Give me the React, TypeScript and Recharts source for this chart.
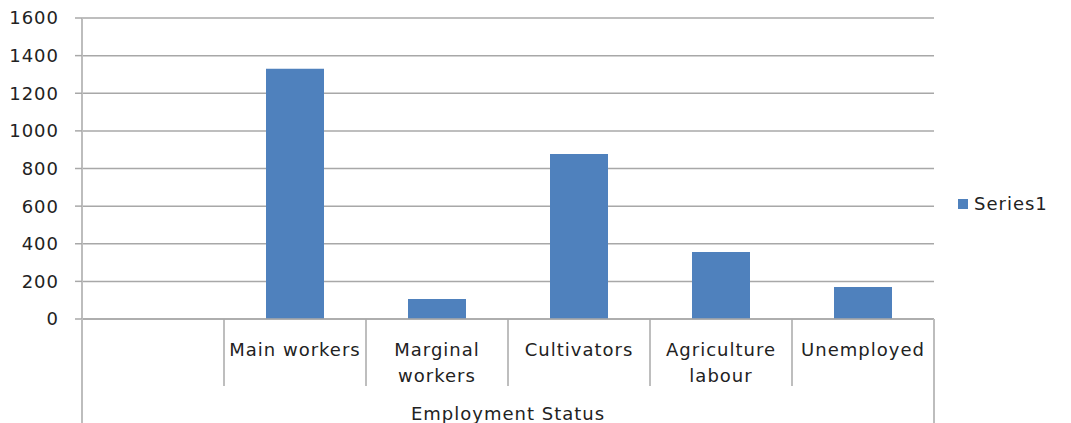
import { BarChart, Bar, XAxis, YAxis, CartesianGrid } from 'recharts';

const CATEGORIES = ['', 'Main workers', 'Marginal workers', 'Cultivators', 'Agriculture labour', 'Unemployed'];
const SERIES1 = [null, 1330, 106, 877, 356, 170];
const Y_TICKS = [0, 200, 400, 600, 800, 1000, 1200, 1400, 1600];
const AXIS_TITLE = 'Employment Status';
const SERIES_NAME = 'Series1';

const LABEL_LINES: Record<string, string[]> = {
  'Marginal workers': ['Marginal', 'workers'],
  'Agriculture labour': ['Agriculture', 'labour'],
};

const data = CATEGORIES.map((name, i) => ({ name, value: SERIES1[i] }));

const FONT = '"DejaVu Sans", sans-serif';
const GRID = '#a8a8a8';

const CategoryTick = (props: any) => {
  const { x, y, payload, index, width } = props;
  const band = (width || 852) / CATEGORIES.length;
  const half = band / 2;
  const lines = LABEL_LINES[payload.value] || [payload.value];
  const isLast = index === CATEGORIES.length - 1;
  return (
    <g>
      {index === 0 ? (
        <line x1={x - half} x2={x - half} y1={y - 8} y2={y + 104} stroke="#bdbdbd" strokeWidth={2} />
      ) : (
        <line x1={x - half} x2={x - half} y1={y - 8} y2={y + 59} stroke={GRID} strokeWidth={1.5} />
      )}
      {isLast && (
        <line x1={x + half} x2={x + half} y1={y - 8} y2={y + 104} stroke="#bdbdbd" strokeWidth={2} />
      )}
      {lines.map((l, i) => (
        <text
          key={i}
          x={x}
          y={y + 29 + i * 26}
          textAnchor="middle"
          fontFamily={FONT}
          fontSize={18}
          letterSpacing={1}
          fill="#222"
        >
          {l}
        </text>
      ))}
      {index === 0 && (
        <text
          x={x - half + (width || 852) / 2}
          y={y + 93}
          textAnchor="middle"
          fontFamily={FONT}
          fontSize={18}
          letterSpacing={1}
          fill="#222"
        >
          {AXIS_TITLE}
        </text>
      )}
    </g>
  );
};

export default function App() {
  return (
    <div style={{ position: 'absolute', left: 0, top: 0, width: 1071, height: 423, background: '#fff' }}>
      <BarChart
        width={1071}
        height={423}
        data={data}
        margin={{ top: 18, right: 137, bottom: 0, left: 0 }}
        barCategoryGap={0}
      >
        <CartesianGrid vertical={false} stroke={GRID} strokeWidth={1.5} />
        <XAxis
          dataKey="name"
          height={104}
          interval={0}
          tickLine={false}
          axisLine={{ stroke: GRID, strokeWidth: 1.5 }}
          tick={<CategoryTick />}
        />
        <YAxis
          width={82}
          domain={[0, 1600]}
          ticks={Y_TICKS}
          tickSize={7}
          tickMargin={16}
          axisLine={{ stroke: '#bdbdbd', strokeWidth: 2 }}
          tickLine={{ stroke: GRID, strokeWidth: 1.5 }}
          tick={{ fontFamily: FONT, fontSize: 18, fill: '#222', letterSpacing: 1 }}
        />
        <Bar dataKey="value" name={SERIES_NAME} fill="#4f81bd" barSize={58} isAnimationActive={false} />
      </BarChart>
      <div
        style={{
          position: 'absolute',
          left: 958,
          top: 193,
          display: 'flex',
          alignItems: 'center',
          fontFamily: FONT,
          fontSize: 18,
          letterSpacing: 1,
          color: '#222',
        }}
      >
        <span style={{ display: 'inline-block', width: 10, height: 10, background: '#4f81bd', marginRight: 6 }} />
        {SERIES_NAME}
      </div>
    </div>
  );
}
